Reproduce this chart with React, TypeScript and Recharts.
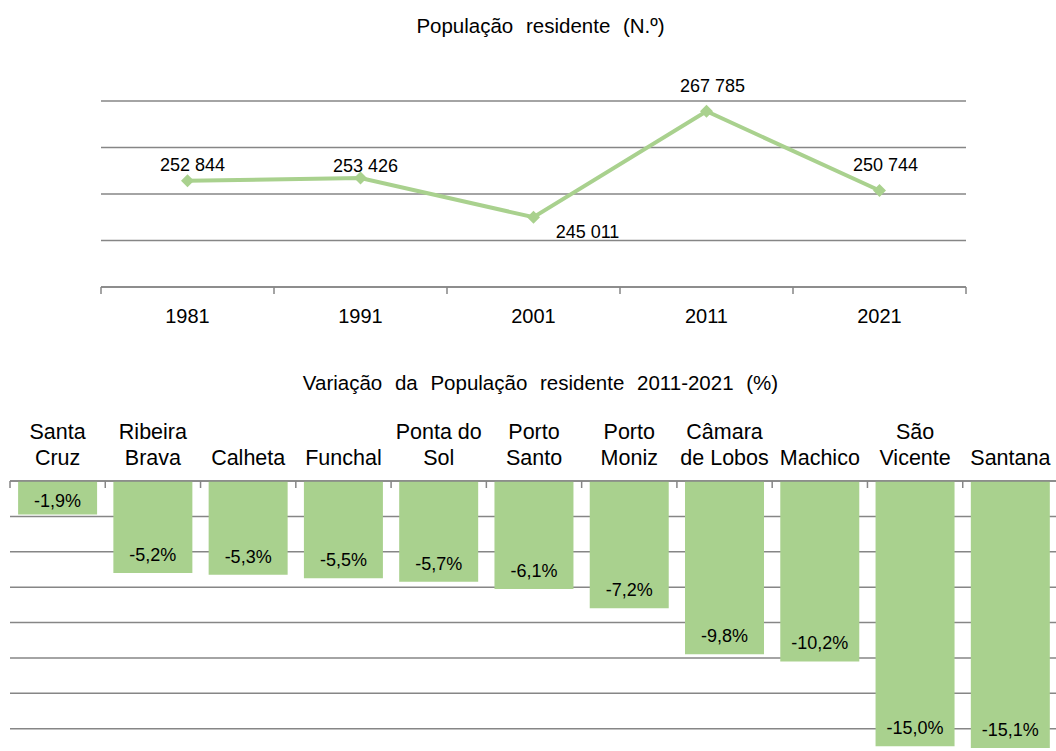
import React from 'react';
import { LineChart, Line, BarChart, Bar, XAxis, YAxis, CartesianGrid, LabelList } from 'recharts';

// ---- Data ----
const years = ['1981', '1991', '2001', '2011', '2021'];
const population = [252844, 253426, 245011, 267785, 250744];
const populationTicks = [230000, 240000, 250000, 260000, 270000];

const municipalities = [
  'Santa Cruz',
  'Ribeira Brava',
  'Calheta',
  'Funchal',
  'Ponta do Sol',
  'Porto Santo',
  'Porto Moniz',
  'Câmara de Lobos',
  'Machico',
  'São Vicente',
  'Santana',
];
const variation = [-1.9, -5.2, -5.3, -5.5, -5.7, -6.1, -7.2, -9.8, -10.2, -15.0, -15.1];
const variationTicks = [0, -2, -4, -6, -8, -10, -12, -14, -16];

const titleTop = 'População residente (N.º)';
const titleBottom = 'Variação da População residente 2011-2021 (%)';

// ---- Style ----
const GREEN = '#A9D18E';
const GRID = '#868686';
const FONT = '"Liberation Sans", Arial, sans-serif';
// label placement relative to each point (centre offsets)
const popLabelOffsets = [
  { dx: 5, dy: -16 },
  { dx: 5, dy: -12 },
  { dx: 54, dy: 15 },
  { dx: 6, dy: -25 },
  { dx: 6, dy: -26 },
];

const popData = years.map((year, i) => ({ year, value: population[i] }));
const varData = municipalities.map((name, i) => ({ name, value: variation[i] }));

const fmtThousands = (v: number) => {
  const s = String(Math.round(v));
  return s.replace(/\B(?=(\d{3})+(?!\d))/g, ' ');
};
const fmtPct = (v: number) => v.toFixed(1).replace('.', ',') + '%';

const wrap = (label: string, maxChars: number) => {
  const words = label.split(' ');
  const lines: string[] = [];
  let cur = '';
  words.forEach((w) => {
    const next = cur ? cur + ' ' + w : w;
    if (next.length > maxChars && cur) {
      lines.push(cur);
      cur = w;
    } else {
      cur = next;
    }
  });
  if (cur) lines.push(cur);
  return lines;
};

const YearTick = (props: any) => {
  const { x, y, payload, index, visibleTicksCount } = props;
  const half = payload?.offset ?? 0;
  const last = index === visibleTicksCount - 1;
  return (
    <g>
      <line x1={x - half} x2={x - half} y1={y} y2={y + 7} stroke={GRID} strokeWidth={1.5} />
      {last && <line x1={x + half} x2={x + half} y1={y} y2={y + 7} stroke={GRID} strokeWidth={1.5} />}
      <text x={x} y={y + 36} textAnchor="middle" fontSize={20} fontFamily={FONT} fill="#000">
        {payload.value}
      </text>
    </g>
  );
};

const CatTick = (props: any) => {
  const { x, y, payload, index, visibleTicksCount } = props;
  const half = payload?.offset ?? 0;
  const last = index === visibleTicksCount - 1;
  const lines = wrap(String(payload.value), 8);
  const base = y - 16;
  return (
    <g>
      <line x1={x - half} x2={x - half} y1={y} y2={y + 7} stroke={GRID} strokeWidth={1.5} />
      {last && <line x1={x + half} x2={x + half} y1={y} y2={y + 7} stroke={GRID} strokeWidth={1.5} />}
      <text textAnchor="middle" fontSize={21.5} fontFamily={FONT} fill="#000">
        {lines.map((l, i) => (
          <tspan key={i} x={x} y={base - (lines.length - 1 - i) * 26}>
            {l}
          </tspan>
        ))}
      </text>
    </g>
  );
};

const Diamond = (props: any) => {
  const { cx, cy, index } = props;
  if (cx == null || cy == null) return <g key={index} />;
  const r = 6.5;
  return (
    <path
      key={index}
      d={`M${cx},${cy - r}L${cx + r},${cy}L${cx},${cy + r}L${cx - r},${cy}Z`}
      fill={GREEN}
      stroke="none"
    />
  );
};

const PopLabel = (props: any) => {
  const { x, y, value, index } = props;
  const o = popLabelOffsets[index] || { dx: 0, dy: -18 };
  return (
    <text
      key={index}
      x={x + o.dx}
      y={y + o.dy}
      textAnchor="middle"
      dominantBaseline="central"
      fontSize={18}
      fontFamily={FONT}
      fill="#000"
    >
      {fmtThousands(value)}
    </text>
  );
};

const BarValueLabel = (props: any) => {
  const { x, y, width, height, value, index } = props;
  const top = Math.min(y, y + height);
  const bottom = Math.max(y, y + height);
  const cy = Math.max(bottom - 18, (top + bottom) / 2 + 3);
  return (
    <text
      key={index}
      x={x + width / 2}
      y={cy}
      textAnchor="middle"
      dominantBaseline="central"
      fontSize={18}
      fontFamily={FONT}
      fill="#000"
    >
      {fmtPct(value)}
    </text>
  );
};

const titleStyle: React.CSSProperties = {
  position: 'absolute',
  left: 0,
  width: 1081,
  textAlign: 'center',
  fontFamily: FONT,
  fontSize: 20.5,
  wordSpacing: 7,
  color: '#000',
  lineHeight: '24px',
};

export default function App() {
  return (
    <div
      style={{
        position: 'absolute',
        left: 0,
        top: 0,
        width: 1056,
        height: 751,
        overflow: 'hidden',
        background: '#fff',
      }}
    >
      <div style={{ ...titleStyle, top: 14 }}>{titleTop}</div>
      <div style={{ position: 'absolute', left: 0, top: 0 }}>
        <LineChart
          width={1056}
          height={340}
          data={popData}
          margin={{ top: 101, right: 90, bottom: 13, left: 101 }}
        >
          <CartesianGrid horizontal vertical={false} stroke={GRID} strokeWidth={1.5} />
          <XAxis
            dataKey="year"
            scale="band"
            height={40}
            axisLine={{ stroke: GRID, strokeWidth: 1.5 }}
            tickLine={false}
            tickSize={0}
            tickMargin={0}
            interval={0}
            tick={(p: any) => <YearTick {...p} />}
          />
          <YAxis hide domain={[230000, 270000]} ticks={populationTicks} type="number" />
          <Line
            dataKey="value"
            stroke={GREEN}
            strokeWidth={4}
            isAnimationActive={false}
            dot={(p: any) => <Diamond {...p} />}
            activeDot={false}
            label={(p: any) => <PopLabel {...p} />}
          />
        </LineChart>
      </div>

      <div style={{ ...titleStyle, top: 371 }}>{titleBottom}</div>
      <div style={{ position: 'absolute', left: 0, top: 400 }}>
        <BarChart
          width={1070}
          height={364}
          data={varData}
          margin={{ top: 0, right: 12, bottom: 0, left: 10 }}
          barCategoryGap="8.5%"
        >
          <CartesianGrid horizontal vertical={false} stroke={GRID} strokeWidth={1.5} />
          <XAxis
            dataKey="name"
            orientation="top"
            height={81}
            axisLine={{ stroke: GRID, strokeWidth: 1.5 }}
            tickLine={false}
            tickSize={0}
            tickMargin={0}
            interval={0}
            tick={(p: any) => <CatTick {...p} />}
          />
          <YAxis hide domain={[-16, 0]} ticks={variationTicks} type="number" />
          <Bar dataKey="value" fill={GREEN} isAnimationActive={false}>
            <LabelList dataKey="value" content={(p: any) => <BarValueLabel {...p} />} />
          </Bar>
        </BarChart>
      </div>
    </div>
  );
}
